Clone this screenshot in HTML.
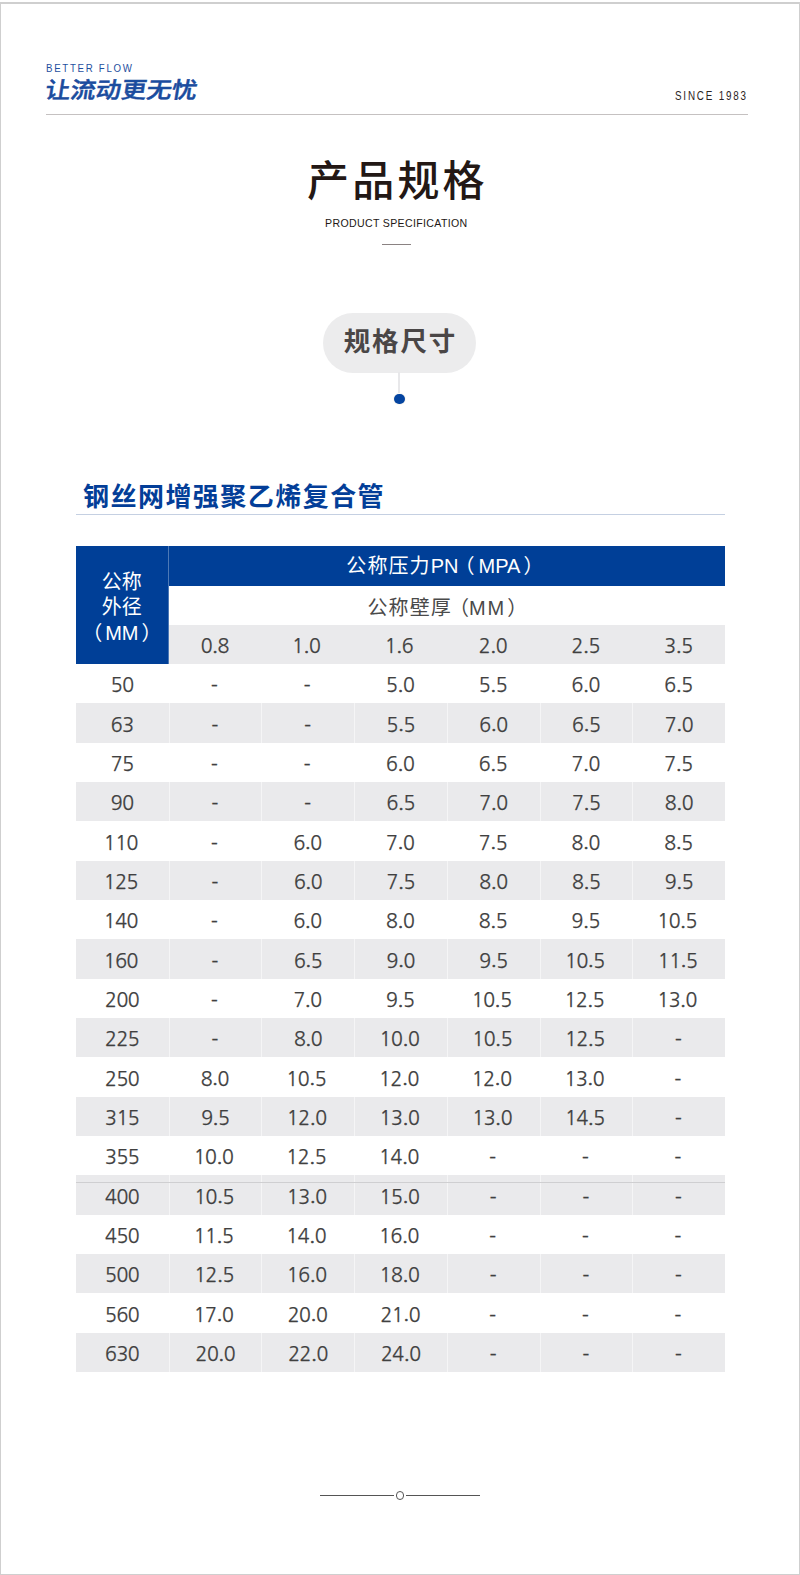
<!DOCTYPE html>
<html lang="zh-CN">
<head>
<meta charset="utf-8">
<title>产品规格</title>
<style>
*{margin:0;padding:0;box-sizing:border-box;}
html,body{width:800px;height:1575px;background:#fff;overflow:hidden;}
body{position:relative;text-spacing-trim:space-all;font-family:"Liberation Sans","Noto Sans CJK SC",sans-serif;}
.frame{position:absolute;left:0;top:2px;width:800px;height:1573px;border:1px solid #cfcfcf;border-top-width:2px;}
.abs{position:absolute;white-space:nowrap;}
.bf{left:45.5px;top:61.7px;font-size:11.4px;letter-spacing:2px;transform:scaleX(0.85);transform-origin:0 0;color:#1f4fa0;font-family:"Liberation Sans",sans-serif;}
.logo{left:42.5px;top:74px;font-size:23px;line-height:32px;font-weight:500;-webkit-text-stroke:0.5px #1a4c9e;color:#1a4c9e;font-family:"Liberation Sans","Noto Sans CJK SC",sans-serif;transform:scale(1.1,0.98) skewX(-8deg);transform-origin:0 100%;letter-spacing:0px;}
.since{left:675px;top:89px;font-size:12px;letter-spacing:2.2px;transform:scaleX(0.82);transform-origin:0 0;color:#2c2424;font-family:"Liberation Sans",sans-serif;}
.hline{left:45.5px;top:114px;width:702.5px;height:1px;background:#c5c1c1;}
.title{left:307px;top:152px;font-size:42px;font-weight:500;letter-spacing:3.2px;color:#231815;font-family:"Liberation Sans","Noto Sans CJK SC",sans-serif;line-height:60px;}
.sub{left:325.3px;top:216.5px;font-size:11.5px;letter-spacing:0.37px;transform:scaleX(0.92);transform-origin:0 0;color:#231815;font-family:"Liberation Sans",sans-serif;}
.short{left:382px;top:244px;width:29px;height:1px;background:#8a8282;}
.pill{left:323px;top:313px;width:153px;height:60px;border-radius:30px;background:#ececed;text-align:center;line-height:58px;font-size:26.5px;font-weight:700;color:#4a4646;font-family:"Liberation Sans","Noto Sans CJK SC",sans-serif;letter-spacing:1.8px;text-indent:1.8px;}
.vline{left:398px;top:372px;width:2px;height:21px;background:#e8e8ea;}
.dot{left:394.2px;top:393.8px;width:10.5px;height:10.5px;border-radius:50%;background:#0444a0;box-shadow:0 0 0 1px #fbf8f2;}
.stitle{left:83px;top:476px;font-size:26px;letter-spacing:1.46px;font-weight:700;color:#033e98;font-family:"Liberation Sans","Noto Sans CJK SC",sans-serif;}
.sline{left:76px;top:514px;width:649px;height:1px;background:#c5d0e2;}
.rl{left:76px;top:1182px;width:649px;height:1px;background:#cfcfd1;}
.ft1{left:320px;top:1494.6px;width:73.8px;height:1.2px;background:#555;}
.ft2{left:406px;top:1494.6px;width:74px;height:1.2px;background:#555;}
.fc{left:395.7px;top:1491px;width:8.6px;height:8.6px;border-radius:50%;border:1.2px solid #555;}
table{position:absolute;left:76px;top:546px;width:649px;border-collapse:separate;border-spacing:0;table-layout:fixed;font-family:"Liberation Sans","Noto Sans CJK SC",sans-serif;}
col{width:92.714px;}
td,th{height:39.333px;text-align:center;vertical-align:middle;font-weight:400;font-size:19.5px;color:#404040;padding:0;line-height:1;}
td,tr.pr th{font-family:"NanumGothic","Noto Sans CJK SC",sans-serif;-webkit-text-stroke:0.25px #404040;padding-top:4.8px;letter-spacing:-0.4px;text-indent:-0.4px;}
th.od{background:#003f97;color:#fff;font-size:20px;line-height:25.6px;padding-top:6px;border-right:1.5px solid rgba(255,255,255,.3);}
th.pn{height:40px;background:#003f97;color:#fff;font-size:20px;padding-top:0;padding-bottom:0;padding-right:7px;}
.cj{letter-spacing:1.1px;}
th.wt{height:39px;background:#fff;color:#4a4a4a;font-size:20px;padding-top:5px;}
tr.pr th{height:39px;background:#eaeaec;}
.lp{position:relative;left:-3px;}
.rp{position:relative;left:3px;}
.lp2{position:relative;left:-4px;}
.rp2{position:relative;left:3px;}
.lp3{position:relative;left:-3px;margin-right:-3px;}
.mm{letter-spacing:2px;}
.rp3{position:relative;left:1px;}
tr.g td{background:#eaeaec;}
td.h{padding-top:6.8px;text-indent:-1.8px;}
.o,tr.pr th.o{text-indent:-3px;}
tr.g td+td{border-left:1px solid #f5f5f6;}
.p{position:relative;top:-1.2px;-webkit-text-stroke:0.7px #404040;}
</style>
</head>
<body>
<div class="frame"></div>
<div class="abs bf">BETTER FLOW</div>
<div class="abs logo">让流动更无忧</div>
<div class="abs since">SINCE 1983</div>
<div class="abs hline"></div>
<div class="abs title">产品规格</div>
<div class="abs sub">PRODUCT SPECIFICATION</div>
<div class="abs short"></div>
<div class="abs pill">规格尺寸</div>
<div class="abs vline"></div>
<div class="abs dot"></div>
<div class="abs stitle">钢丝网增强聚乙烯复合管</div>
<div class="abs sline"></div>
<table>
<colgroup><col><col><col><col><col><col><col></colgroup>
<thead>
<tr><th class="od" rowspan="3">公称<br>外径<br><span class="lp">（</span>MM<span class="rp">）</span></th><th class="pn" colspan="6"><span class="cj">公称压力</span>PN<span class="lp2">（</span>MPA<span class="rp2">）</span></th></tr>
<tr><th class="wt" colspan="6"><span class="cj">公称壁厚</span><span class="lp3">（</span><span class="mm">MM</span><span class="rp3">）</span></th></tr>
<tr class="pr"><th>0<span class="p">.</span>8</th><th class="o">1<span class="p">.</span>0</th><th class="o">1<span class="p">.</span>6</th><th>2<span class="p">.</span>0</th><th>2<span class="p">.</span>5</th><th>3<span class="p">.</span>5</th></tr>
</thead>
<tbody>
<tr><td>50</td><td class="h">-</td><td class="h">-</td><td>5<span class="p">.</span>0</td><td>5<span class="p">.</span>5</td><td>6<span class="p">.</span>0</td><td>6<span class="p">.</span>5</td></tr>
<tr class="g"><td>63</td><td class="h">-</td><td class="h">-</td><td>5<span class="p">.</span>5</td><td>6<span class="p">.</span>0</td><td>6<span class="p">.</span>5</td><td>7<span class="p">.</span>0</td></tr>
<tr><td>75</td><td class="h">-</td><td class="h">-</td><td>6<span class="p">.</span>0</td><td>6<span class="p">.</span>5</td><td>7<span class="p">.</span>0</td><td>7<span class="p">.</span>5</td></tr>
<tr class="g"><td>90</td><td class="h">-</td><td class="h">-</td><td>6<span class="p">.</span>5</td><td>7<span class="p">.</span>0</td><td>7<span class="p">.</span>5</td><td>8<span class="p">.</span>0</td></tr>
<tr><td class="o">110</td><td class="h">-</td><td>6<span class="p">.</span>0</td><td>7<span class="p">.</span>0</td><td>7<span class="p">.</span>5</td><td>8<span class="p">.</span>0</td><td>8<span class="p">.</span>5</td></tr>
<tr class="g"><td class="o">125</td><td class="h">-</td><td>6<span class="p">.</span>0</td><td>7<span class="p">.</span>5</td><td>8<span class="p">.</span>0</td><td>8<span class="p">.</span>5</td><td>9<span class="p">.</span>5</td></tr>
<tr><td class="o">140</td><td class="h">-</td><td>6<span class="p">.</span>0</td><td>8<span class="p">.</span>0</td><td>8<span class="p">.</span>5</td><td>9<span class="p">.</span>5</td><td class="o">10<span class="p">.</span>5</td></tr>
<tr class="g"><td class="o">160</td><td class="h">-</td><td>6<span class="p">.</span>5</td><td>9<span class="p">.</span>0</td><td>9<span class="p">.</span>5</td><td class="o">10<span class="p">.</span>5</td><td class="o">11<span class="p">.</span>5</td></tr>
<tr><td>200</td><td class="h">-</td><td>7<span class="p">.</span>0</td><td>9<span class="p">.</span>5</td><td class="o">10<span class="p">.</span>5</td><td class="o">12<span class="p">.</span>5</td><td class="o">13<span class="p">.</span>0</td></tr>
<tr class="g"><td>225</td><td class="h">-</td><td>8<span class="p">.</span>0</td><td class="o">10<span class="p">.</span>0</td><td class="o">10<span class="p">.</span>5</td><td class="o">12<span class="p">.</span>5</td><td class="h">-</td></tr>
<tr><td>250</td><td>8<span class="p">.</span>0</td><td class="o">10<span class="p">.</span>5</td><td class="o">12<span class="p">.</span>0</td><td class="o">12<span class="p">.</span>0</td><td class="o">13<span class="p">.</span>0</td><td class="h">-</td></tr>
<tr class="g"><td>315</td><td>9<span class="p">.</span>5</td><td class="o">12<span class="p">.</span>0</td><td class="o">13<span class="p">.</span>0</td><td class="o">13<span class="p">.</span>0</td><td class="o">14<span class="p">.</span>5</td><td class="h">-</td></tr>
<tr><td>355</td><td class="o">10<span class="p">.</span>0</td><td class="o">12<span class="p">.</span>5</td><td class="o">14<span class="p">.</span>0</td><td class="h">-</td><td class="h">-</td><td class="h">-</td></tr>
<tr class="g"><td>400</td><td class="o">10<span class="p">.</span>5</td><td class="o">13<span class="p">.</span>0</td><td class="o">15<span class="p">.</span>0</td><td class="h">-</td><td class="h">-</td><td class="h">-</td></tr>
<tr><td>450</td><td class="o">11<span class="p">.</span>5</td><td class="o">14<span class="p">.</span>0</td><td class="o">16<span class="p">.</span>0</td><td class="h">-</td><td class="h">-</td><td class="h">-</td></tr>
<tr class="g"><td>500</td><td class="o">12<span class="p">.</span>5</td><td class="o">16<span class="p">.</span>0</td><td class="o">18<span class="p">.</span>0</td><td class="h">-</td><td class="h">-</td><td class="h">-</td></tr>
<tr><td>560</td><td class="o">17<span class="p">.</span>0</td><td>20<span class="p">.</span>0</td><td>21<span class="p">.</span>0</td><td class="h">-</td><td class="h">-</td><td class="h">-</td></tr>
<tr class="g"><td>630</td><td>20<span class="p">.</span>0</td><td>22<span class="p">.</span>0</td><td>24<span class="p">.</span>0</td><td class="h">-</td><td class="h">-</td><td class="h">-</td></tr>
</tbody>
</table>
<div class="abs rl"></div>
<div class="abs ft1"></div>
<div class="abs ft2"></div>
<div class="abs fc"></div>
</body>
</html>
